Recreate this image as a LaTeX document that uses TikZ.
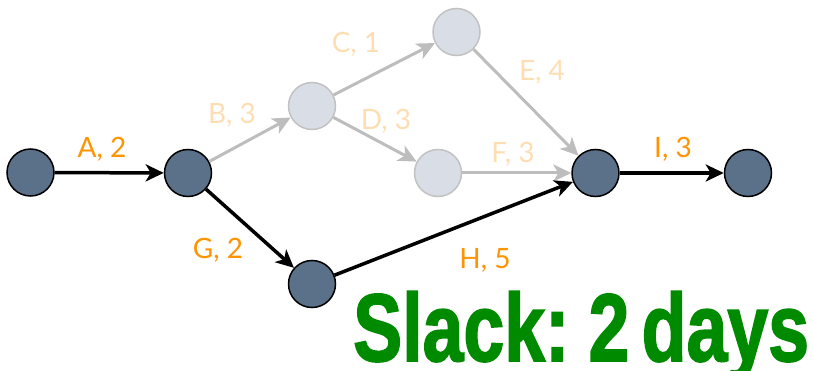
\documentclass[tikz,border=0pt]{standalone}
\usepackage{fontspec}
\setmainfont{Lato}
\newfontfamily\slackfont{Liberation Sans}[WordSpace=0.6,BoldFeatures={FakeBold=2}]
\usetikzlibrary{arrows.meta}

\definecolor{evtfill}{HTML}{5B7089}
\definecolor{idlefill}{HTML}{D9DEE6}
\definecolor{idledraw}{HTML}{C2C2C2}
\definecolor{idleline}{HTML}{BDBDBD}
\definecolor{durcol}{HTML}{FF9300}
\definecolor{durfade}{HTML}{FFDDB3}
\definecolor{slackgreen}{HTML}{008A00}

\begin{document}
\begin{tikzpicture}[x=1pt,y=-1pt,
  event/.style={circle,draw=black,line width=1.5pt,fill=evtfill,minimum size=47pt,inner sep=0pt},
  idle/.style={circle,draw=idledraw,line width=1.5pt,fill=idlefill,minimum size=47pt,inner sep=0pt},
  act/.style={-{Stealth[length=18pt,width=17pt,inset=5pt]},line width=3.5pt},
  idleact/.style={act,line width=3pt,draw=idleline,color=idleline},
  dur/.style={text=durcol,font=\fontsize{28}{30}\selectfont},
  idledur/.style={dur,text=durfade}]
\useasboundingbox (0,0) rectangle (813,371);

% events
\node[event] (s) at (30.5,172.5) {};
\node[event] (a) at (188,173) {};
\node[idle] (b) at (312,106) {};
\node[idle] (c) at (456.5,32) {};
\node[idle] (d) at (438,173) {};
\node[event] (g) at (312,284) {};
\node[event] (m) at (595.5,173) {};
\node[event] (e) at (748,173) {};

% activities off the critical path
\draw[idleact] (a) -- (b);
\draw[idleact] (b) -- (c);
\draw[idleact] (b) -- (d);
\draw[idleact] (c) -- (m);
\draw[idleact] (d) -- (m);

% critical path
\draw[act] (s) -- (a);
\draw[act] (a) -- (g);
\draw[act] (g) -- (m);
\draw[act] (m) -- (e);

% durations
\node[dur] (la) at (102,149) {A, 2};
\node[idledur] (lb) at (232,115) {B, 3};
\node[idledur] (lc) at (356,44) {C, 1};
\node[idledur] (ld) at (386,121) {D, 3};
\node[idledur] (le) at (542,72) {E, 4};
\node[idledur] (lf) at (513,154) {F, 3};
\node[dur] (li) at (673,149) {I, 3};
\node[dur] (lg) at (218,250) {G, 2};
\node[dur] (lh) at (485,260) {H, 5};

\node[anchor=base west,inner sep=0pt,text=slackgreen] (slack) at (353,361)
  {\scalebox{0.765}[1]{\slackfont\bfseries\fontsize{96}{96}\selectfont Slack: 2 days}};
\end{tikzpicture}
\end{document}
